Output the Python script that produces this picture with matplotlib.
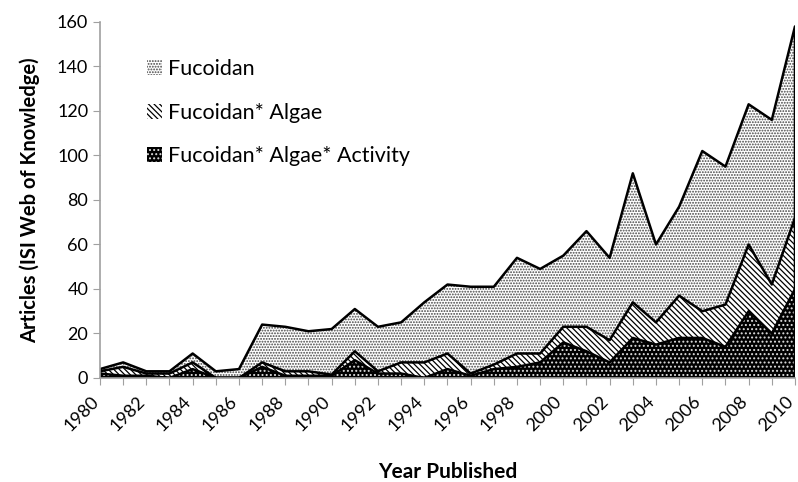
import numpy as np
import matplotlib
matplotlib.use("Agg")
import matplotlib.pyplot as plt
import matplotlib.transforms as mtransforms
from matplotlib.patches import Patch

years = list(range(1980, 2011))
fucoidan = [4, 7, 3, 3, 11, 3, 4, 24, 23, 21, 22, 31, 23, 25, 34,
            42, 41, 41, 54, 49, 55, 66, 54, 92, 60, 77, 102, 95, 123, 116, 158]
fucoidan_algae = [3, 5, 2, 2, 7, 0, 0, 7, 3, 3, 1.5, 12, 3, 7, 7,
                  11, 2, 6, 11, 11, 23, 23, 17, 34, 25, 37, 30, 33, 60, 42, 72]
fucoidan_algae_activity = [2, 1, 1, 0, 4, 0, 0, 5, 1, 1, 1, 8, 2, 2, 0,
                           4, 1, 4, 5, 7, 16, 12, 7, 18, 15, 18, 18, 14, 30, 20, 40]
labels = ["Fucoidan", "Fucoidan* Algae", "Fucoidan* Algae* Activity"]

plt.rcParams['font.family'] = ['Lato', 'DejaVu Sans']
plt.rcParams['hatch.linewidth'] = 0.9

fig = plt.figure(figsize=(7.98, 4.82), dpi=100)
ax = fig.add_axes([0.1253, 0.2158, 0.8709, 0.7386])

x = np.array(years)
styles = [
    dict(facecolor='white', hatch_color='#444444', hatch='......'),
    dict(facecolor='white', hatch_color='black', hatch='\\\\\\\\\\\\'),
    dict(facecolor='black', hatch_color='#dddddd', hatch='....'),
]
handles = []
for vals, st, lab in zip([fucoidan, fucoidan_algae, fucoidan_algae_activity], styles, labels):
    ax.fill_between(x, 0, vals, facecolor=st['facecolor'], edgecolor=st['hatch_color'],
                    hatch=st['hatch'], linewidth=0)
    ax.fill_between(x, 0, vals, facecolor='none', edgecolor='black', linewidth=1.8)
    handles.append(Patch(facecolor=st['facecolor'], edgecolor=st['hatch_color'],
                         hatch=st['hatch'], linewidth=0, label=lab))

ax.set_xlim(1980, 2010)
ax.set_ylim(0, 160)
ax.set_yticks(range(0, 161, 20))
ax.set_xticks(years)
ax.set_xticklabels([str(y) if y % 2 == 0 else '' for y in years], rotation=45,
                   ha='right', rotation_mode='anchor')
ax.tick_params(axis='both', labelsize=13, color='#a0a0a0', length=5)
ax.tick_params(axis='x', pad=3)

# nudge the rotated year labels left/down so 2010 stays inside the figure
offset = mtransforms.ScaledTranslation(-7 / 72, -3 / 72, fig.dpi_scale_trans)
for lbl in ax.get_xticklabels():
    lbl.set_transform(lbl.get_transform() + offset)

for s in ['top', 'right']:
    ax.spines[s].set_visible(False)
for s in ['left', 'bottom']:
    ax.spines[s].set_color('#a0a0a0')
    ax.spines[s].set_linewidth(1.2)

ax.set_xlabel('Year Published', fontsize=15, fontweight='bold', labelpad=20)
ax.set_ylabel('Articles (ISI Web of Knowledge)', fontsize=14.5, fontweight='bold',
              labelpad=12)

leg = ax.legend(handles=handles, loc='upper left', bbox_to_anchor=(0.055, 0.92),
                frameon=False, fontsize=15.5, handlelength=0.7, handleheight=0.7,
                handletextpad=0.3, labelspacing=1.1, borderaxespad=0)

fig.savefig('out.png', dpi=100)
